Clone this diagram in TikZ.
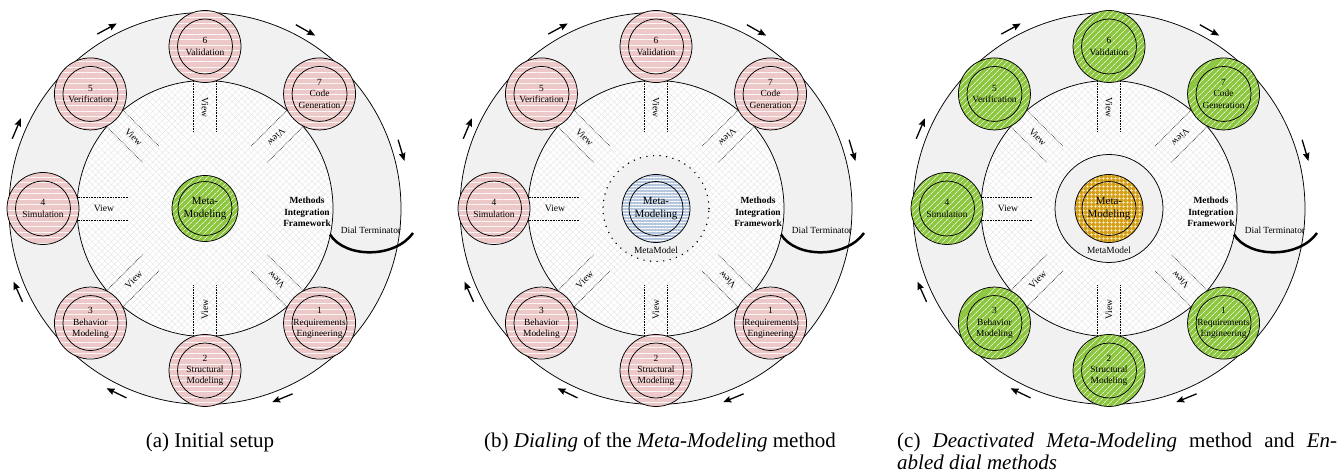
\documentclass[tikz,border=0pt]{standalone}
\usepackage{fontspec}
\setmainfont{Liberation Serif}
\usetikzlibrary{patterns.meta,arrows.meta}

\definecolor{ringgray}{RGB}{241,241,241}
\definecolor{hatchgray}{RGB}{226,226,226}
\definecolor{pinkc}{RGB}{236,200,200}
\definecolor{greenc}{RGB}{141,198,63}
\definecolor{bluec}{RGB}{182,199,222}
\definecolor{goldc}{RGB}{212,160,23}

\tikzset{
  pinkfill/.style={preaction={fill=pinkc}, pattern={Lines[angle=0,distance=5.5pt,line width=0.5pt]}, pattern color=white!85!pinkc},
  greenfill/.style={preaction={fill=greenc}, pattern={Lines[angle=45,distance=4pt,line width=0.7pt]}, pattern color=white!80!greenc},
  bluefill/.style={preaction={fill=bluec}, pattern={Lines[angle=0,distance=3pt,line width=0.7pt]}, pattern color=white},
  goldfill/.style={preaction={fill=goldc}, pattern={Hatch[angle=0,distance=4pt,line width=0.7pt]}, pattern color=white!85!goldc},
  method/.style={circle, draw, line width=0.75pt, minimum size=72pt, inner sep=0pt, align=center,
    font=\fontsize{9.4}{11.3}\selectfont,
    path picture={\draw[line width=0.75pt] (path picture bounding box.center) circle (27.5pt);}},
  meta/.style={circle, draw, line width=0.75pt, minimum size=#1, inner sep=0pt, align=center,
    font=\fontsize{11}{12.3}\selectfont,
    path picture={\draw[line width=0.75pt] (path picture bounding box.center) circle (27pt);}},
  viewline/.style={densely dotted, line width=0.6pt},
  viewlabel/.style={font=\fontsize{9.6}{11}\selectfont, inner sep=0pt},
  smalltext/.style={font=\fontsize{9.4}{11.3}\selectfont, inner sep=0pt, align=center},
  ringarrow/.style={-{Stealth[length=8pt,width=6.5pt,inset=1pt]}, line width=1.3pt},
  dialline/.style={line width=2.5pt},
  thinline/.style={line width=0.75pt},
  caption/.style={font=\fontsize{21}{22}\selectfont, inner sep=0pt},
}

\newcommand\dialpanel[3]{%
\begin{scope}[shift={(#1pt,265.5pt)}]
  \fill[ringgray] (0,0) circle (196pt);
  \draw[thinline] (0,0) circle (196pt);
  \path[preaction={fill=white}, pattern={Hatch[angle=45,distance=4.5pt,line width=0.3pt]}, pattern color=hatchgray] (0,0) circle (128pt);
  \draw[thinline] (0,0) circle (128pt);
  \foreach \a in {45,90,...,315} {
    \begin{scope}[rotate=\a]
      \draw[viewline] (77pt,11.5pt) -- (127pt,11.5pt);
      \draw[viewline] (77pt,-11.5pt) -- (127pt,-11.5pt);
    \end{scope}
    \node[viewlabel, rotate=\a-180] at (\a:101pt) {View};
  }
  \foreach \a/\n/\t in {315/1/{Requirements\\Engineering}, 270/2/{Structural\\Modeling},
      225/3/{Behavior\\Modeling}, 180/4/{Simulation}, 135/5/{Verification},
      90/6/{Validation}, 45/7/{Code\\Generation}} {
    \node[method, #2] (#3m\n) at (\a:162pt) {\n\\\t};
  }
  \node[smalltext, font=\fontsize{9.4}{11.3}\selectfont\bfseries] (#3mif) at (102pt,-3.5pt) {Methods\\Integration\\Framework};
  \coordinate (#3d1) at (125pt,-26pt);
  \coordinate (#3d2) at (208pt,-24.5pt);
  \draw[dialline] (#3d1) .. controls (140pt,-50pt) and (190pt,-50pt) .. (#3d2);
  \node[smalltext] (#3dt) at (166pt,-22pt) {Dial Terminator};
  \foreach \p [count=\k] in {118.6,60.6,16.5,-67.8,-115.6,-156,157} {
    \coordinate (#3as\k) at (\p+3.1:205pt);
    \coordinate (#3ae\k) at (\p-3.1:205pt);
    \draw[ringarrow] (#3as\k) -- (#3ae\k);
  }
\end{scope}}

\begin{document}
\begin{tikzpicture}
\useasboundingbox (0,0) rectangle (1344pt,474pt);
\fill[white] (0,0) rectangle (1344pt,474pt);

\dialpanel{205}{pinkfill}{a}
\dialpanel{656}{pinkfill}{b}
\dialpanel{1109}{greenfill}{c}

% panel a centre
\begin{scope}[shift={(205pt,265.5pt)}]
  \node[meta=66pt, greenfill] (ameta) at (0,0) {Meta-\\Modeling};
\end{scope}

% panel b centre
\begin{scope}[shift={(656pt,265.5pt)}]
  \fill[ringgray] (0,0) circle (53pt);
  \draw[line width=1.6pt, line cap=round, dash pattern=on 0pt off 6.6pt] (0,0) circle (53pt);
  \node[meta=68pt, bluefill] (bmeta) at (0,0) {Meta-\\Modeling};
  \node[smalltext] (bmm) at (0,-41.5pt) {MetaModel};
\end{scope}

% panel c centre
\begin{scope}[shift={(1109pt,265.5pt)}]
  \fill[ringgray] (0,0) circle (54pt);
  \draw[thinline] (0,0) circle (54pt);
  \node[meta=68pt, goldfill] (cmeta) at (0,0) {Meta-\\Modeling};
  \node[smalltext] (cmm) at (0,-41.5pt) {MetaModel};
\end{scope}

% captions
\node[caption, anchor=base] (capa) at (210pt,27pt) {(a) Initial setup};
\node[caption, anchor=base] (capb) at (660pt,27pt) {(b) \textit{Dialing} of the \textit{Meta-Modeling} method};
\node[caption, anchor=base west] (capc) at (897pt,27pt) {\parbox[t]{440pt}{(c) \textit{Deactivated Meta-Modeling} method and \textit{En-}\linebreak\textit{abled dial methods}}};
\end{tikzpicture}
\end{document}
